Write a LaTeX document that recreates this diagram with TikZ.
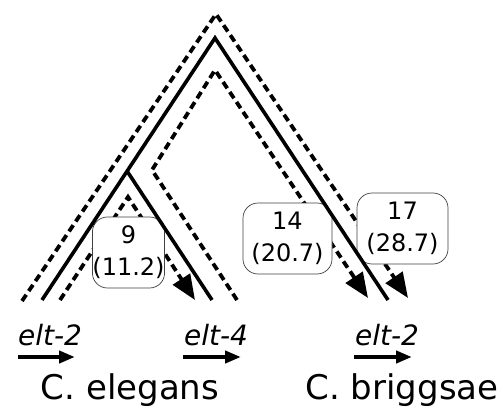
\documentclass[tikz,border=0pt]{standalone}
\usepackage{fontspec}
\setmainfont{DejaVu Sans}
\usetikzlibrary{arrows.meta}
\tikzset{
  branch/.style={line width=3.6pt, line cap=butt, line join=miter},
  path dashed/.style={line width=3.8pt, dash pattern=on 7.5pt off 4.5pt, line join=miter},
  tip big/.style={-{Triangle[length=25pt,width=20pt]}},
  countbox/.style={draw=black!75, line width=0.7pt, fill=white, rounded corners=15pt,
    minimum height=71pt, inner sep=0pt, align=center,
    font=\fontsize{24}{32}\selectfont},
  genelabel/.style={anchor=base, font=\fontsize{28}{32}\selectfont\itshape},
  genearrow/.style={line width=4.5pt, -{Triangle[length=16pt,width=12pt]}},
  species/.style={font=\fontsize{34}{40}\selectfont}
}
\begin{document}
\begin{tikzpicture}[x=1pt,y=-1pt]
\useasboundingbox (0,0) rectangle (503,409);

% tree points
\coordinate (apex)   at (215,38);
\coordinate (leftE)  at (42,300);
\coordinate (rightE) at (388,300);
\coordinate (fork)   at (127,171);
\coordinate (midE)   at (212,300);

% outer dashed path: C. elegans elt-2 -> C. briggsae elt-2
\coordinate (oA) at (22,301);
\coordinate (oTop) at (216,14);
\coordinate (oB) at (408,298);
% middle dashed path: elt-4 -> C. briggsae elt-2
\coordinate (mA) at (237,300);
\coordinate (mFork) at (152,170);
\coordinate (mTop) at (215,70);
\coordinate (mB) at (368,298);
% inner dashed path: elt-2 -> elt-4
\coordinate (iA) at (60,300);
\coordinate (iFork) at (128,197);
\coordinate (iB) at (195,300);

\draw[path dashed, tip big] (oA) -- (oTop) -- (oB);
\draw[path dashed, tip big] (mA) -- (mFork) -- (mTop) -- (mB);
\draw[path dashed, tip big] (iA) -- (iFork) -- (iB);

% divergence boxes
\node[countbox, minimum width=71pt] (b9)  at (128.5,252.5) {9\\(11.2)};
\node[countbox, minimum width=89pt] (b14) at (287.5,238.5) {14\\(20.7)};
\node[countbox, minimum width=91pt] (b17) at (402.5,228.5) {17\\(28.7)};

% solid species tree
\draw[branch] (leftE) -- (apex) -- (rightE);
\draw[branch] (fork) -- (midE);

% gene labels and orientation arrows
\node[genelabel] (g1) at (50,345) {elt-2};
\node[genelabel] (g2) at (216,345) {elt-4};
\node[genelabel] (g3) at (387,345) {elt-2};
\coordinate (a1s) at (18,357);  \coordinate (a1e) at (75,357);
\coordinate (a2s) at (183,357); \coordinate (a2e) at (241,357);
\coordinate (a3s) at (354,357); \coordinate (a3e) at (412,357);
\draw[genearrow] (a1s) -- (a1e);
\draw[genearrow] (a2s) -- (a2e);
\draw[genearrow] (a3s) -- (a3e);

% species names
\node[species] (ce) at (130,390) {C. elegans};
\node[species] (cb) at (402,390) {C. briggsae};
\end{tikzpicture}
\end{document}
